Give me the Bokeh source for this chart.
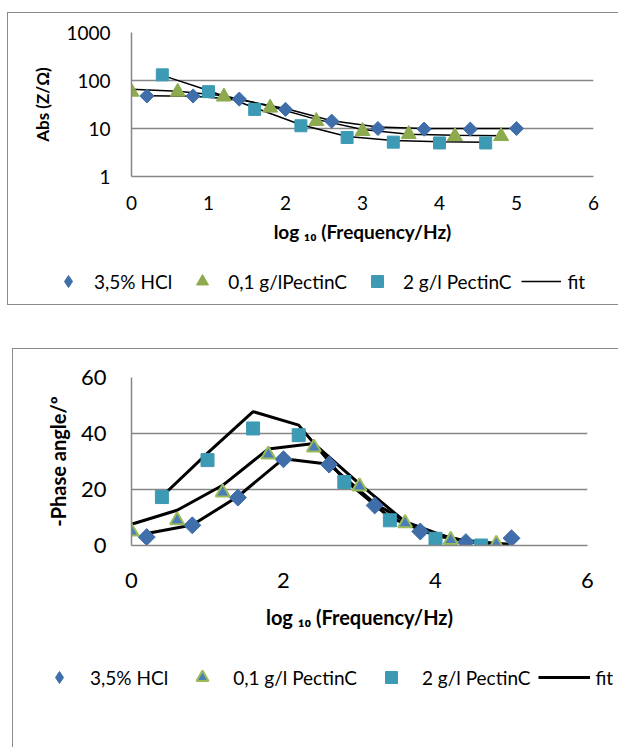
import math
from bokeh.plotting import figure
from bokeh.models import (Legend, LegendItem, FixedTicker,
                          BasicTickFormatter, Range1d)
from bokeh.embed import file_html
from bokeh.resources import INLINE

# ---------------- data ----------------
hcl_x = [0.2, 0.8, 1.4, 2.0, 2.6, 3.2, 3.8, 4.4, 5.0]
pec01_x = [0.0, 0.6, 1.2, 1.8, 2.4, 3.0, 3.6, 4.2, 4.8]
pec2_x = [0.4, 1.0, 1.6, 2.2, 2.8, 3.4, 4.0, 4.6]

# |Z| (ohm)
absz_hcl = [47.6, 47.6, 41, 25, 14.2, 10, 9.7, 9.7, 10]
absz_pec01 = [58, 58, 46, 27, 14.2, 8.8, 7.6, 6.9, 6.9]
absz_pec2 = [131, 58.6, 25, 11.4, 6.5, 5.2, 5.0, 5.0]
absz_fit_hcl = [48, 47, 40, 26, 14.5, 10.7, 10, 10, 10]
absz_fit_pec01 = [66, 60, 48, 29, 15.5, 9.5, 7.6, 7.2, 7.1]
absz_fit_pec2 = [128, 62, 27, 12, 6.8, 5.6, 5.3, 5.2]

# -phase angle (deg)
ph_hcl = [3.0, 7.2, 17.1, 30.8, 28.9, 14.3, 5.0, 1.2, 2.6]
ph_pec01 = [5.0, 9.0, 18.9, 32.5, 35.0, 21.1, 8.0, 2.0, 0.6]
ph_pec2 = [17.3, 30.5, 41.8, 39.4, 22.7, 9.0, 2.4, 0.0]
ph_fit_hcl = [4.3, 7.3, 17.5, 31.0, 29.0, 15.0, 5.5, 1.5, 0.4]
ph_fit_pec01 = [7.6, 12.6, 21.5, 34.5, 36.4, 22.0, 8.5, 2.5, 0.5]
ph_fit_pec2 = [17.5, 33.0, 47.8, 43.0, 23.5, 10.0, 3.5, 0.7]

x_ticks_top = [0, 1, 2, 3, 4, 5, 6]
y_ticks_top = [1, 10, 100, 1000]
x_ticks_bot = [0, 2, 4, 6]
y_ticks_bot = [0, 20, 40, 60]

labels_top = ["3,5% HCl", "0,1 g/lPectinC", "2 g/l PectinC", "fit"]
labels_bot = ["3,5% HCl", "0,1 g/l PectinC", "2 g/l PectinC", "fit"]

# ---------------- style ----------------
FONT = "Lato"
GRID = "#868686"
FRAME = "1px solid #8a8a8a"
BLUE = "#3F6EAA"
GREEN = "#8DAA4E"
TEAL = "#3C9AB4"
BLUE2 = "#4A7EBB"
GREEN2 = "#9BBB59"

TOP_MARK = dict(
    hcl=dict(marker="square", angle=math.pi / 4, size=10, fill_color=BLUE, line_color=BLUE),
    p01=dict(marker="triangle", size=15, fill_color=GREEN, line_color=GREEN),
    p2=dict(marker="square", size=12, fill_color=TEAL, line_color=TEAL),
)
BOT_MARK = dict(
    hcl=dict(marker="square", angle=math.pi / 4, size=12, fill_color=BLUE, line_color=BLUE),
    p01=dict(marker="triangle", size=14, fill_color=BLUE2, line_color=GREEN2, line_width=2),
    p2=dict(marker="square", size=13, fill_color=TEAL, line_color=TEAL),
)


def legend_marks(marks):
    # legend swatches ignore the marker angle, so use a diamond there
    out = {k: dict(v) for k, v in marks.items()}
    out["hcl"].pop("angle", None)
    out["hcl"]["marker"] = "diamond"
    return out


def style_axes(p, tick_size, title_size, ystand, xstand, ylab_stand, xlab_stand):
    p.xgrid.visible = False
    p.ygrid.grid_line_color = GRID
    p.ygrid.grid_line_width = 1.5
    p.outline_line_color = None
    for ax in (p.xaxis[0], p.yaxis[0]):
        ax.axis_line_color = GRID
        ax.axis_line_width = 1.5
        ax.major_tick_line_color = None
        ax.minor_tick_line_color = None
        ax.major_tick_out = 0
        ax.major_tick_in = 0
        ax.major_label_text_font = FONT
        ax.major_label_text_font_size = tick_size
        ax.major_label_text_color = "#000000"
        ax.axis_label_text_font = FONT
        ax.axis_label_text_font_size = title_size
        ax.axis_label_text_font_style = "bold"
        ax.axis_label_text_color = "#000000"
    p.yaxis[0].major_label_standoff = ystand
    p.xaxis[0].major_label_standoff = xstand
    p.yaxis[0].axis_label_standoff = ylab_stand
    p.xaxis[0].axis_label_standoff = xlab_stand


def legend_fig(width, height, marks, line_w, series, labels, loc, glyph_w,
               standoff, spacing, font_size, margin, styles):
    # legend-only panel: the series are drawn here outside the visible range,
    # so only their legend swatches appear
    pl = figure(width=width, height=height, x_range=Range1d(100, 101),
                y_range=Range1d(-101, -100), x_axis_location=None,
                y_axis_location=None, output_backend="svg",
                toolbar_location=None, min_border=0,
                min_border_left=0, min_border_right=0,
                min_border_top=0, min_border_bottom=0,
                margin=margin, styles=styles,
                background_fill_color="white", border_fill_color="white")
    pl.grid.visible = False
    pl.outline_line_color = None
    (xa, ya), (xb, yb), (xc, yc), (xd, yd) = series
    ra = pl.scatter(xa, ya, **marks["hcl"])
    rb = pl.scatter(xb, yb, **marks["p01"])
    rc = pl.scatter(xc, yc, **marks["p2"])
    rd = pl.line(xd, yd, line_color="black", line_width=line_w)
    leg = Legend(items=[LegendItem(label=labels[0], renderers=[ra]),
                        LegendItem(label=labels[1], renderers=[rb]),
                        LegendItem(label=labels[2], renderers=[rc]),
                        LegendItem(label=labels[3], renderers=[rd])],
                 orientation="horizontal", location=loc,
                 glyph_width=glyph_w, glyph_height=30, label_standoff=standoff,
                 spacing=spacing, padding=0, margin=0, border_line_color=None,
                 background_fill_alpha=0, label_text_font=FONT,
                 label_text_font_size=font_size, label_text_color="#000000")
    pl.add_layout(leg, "center")
    return pl


# ---------------- top chart ----------------
W1, H1 = 611, 247
p1 = figure(width=W1, height=H1, y_axis_type="log",
            x_range=Range1d(0, 6), y_range=Range1d(1, 1000),
            output_backend="svg", toolbar_location=None,
            min_border_left=123, min_border_right=W1 - 585,
            min_border_top=19, min_border_bottom=H1 - 163,
            background_fill_color="white", border_fill_color="white",
            margin=(12, 0, 0, 7),
            styles={"border-left": FRAME, "border-top": FRAME})
p1.xaxis.ticker = FixedTicker(ticks=x_ticks_top)
p1.yaxis.ticker = FixedTicker(ticks=y_ticks_top)
p1.yaxis.formatter = BasicTickFormatter(use_scientific=False)
p1.xaxis.axis_label = "log \u2081\u2080 (Frequency/Hz)"
p1.yaxis.axis_label = "Abs (Z/\u03a9)"
style_axes(p1, "19px", "17px", 21, 19, 10, 7)
p1.xaxis.axis_label_text_font_size = "19px"

p1.line(hcl_x, absz_fit_hcl, line_color="black", line_width=1.5)
p1.line(pec01_x, absz_fit_pec01, line_color="black", line_width=1.5)
p1.line(pec2_x, absz_fit_pec2, line_color="black", line_width=1.5)
p1.scatter(hcl_x, absz_hcl, **TOP_MARK["hcl"])
p1.scatter(pec01_x, absz_pec01, **TOP_MARK["p01"])
p1.scatter(pec2_x, absz_pec2, **TOP_MARK["p2"])

pl1 = legend_fig(W1, 46, legend_marks(TOP_MARK), 1.5,
                 [(hcl_x, absz_hcl), (pec01_x, absz_pec01),
                  (pec2_x, absz_pec2), (hcl_x, absz_fit_hcl)],
                 labels_top, (40, 9), 40, 6, 10, "19px",
                 (0, 0, 0, 7), {"border-left": FRAME, "border-bottom": FRAME})

# ---------------- bottom chart ----------------
W2, H2 = 606, 299
p2 = figure(width=W2, height=H2,
            x_range=Range1d(0, 6), y_range=Range1d(0, 60),
            output_backend="svg", toolbar_location=None,
            min_border_left=118, min_border_right=W2 - 574,
            min_border_top=28, min_border_bottom=H2 - 196,
            background_fill_color="white", border_fill_color="white",
            margin=(43, 0, 0, 12),
            styles={"border-left": FRAME, "border-top": FRAME})
p2.xaxis.ticker = FixedTicker(ticks=x_ticks_bot)
p2.yaxis.ticker = FixedTicker(ticks=y_ticks_bot)
p2.xaxis.axis_label = "log \u2081\u2080 (Frequency/Hz)"
p2.yaxis.axis_label = "-Phase angle/\u00ba"
style_axes(p2, "22px", "20px", 25, 27, 8, 14)

p2.line(hcl_x, ph_fit_hcl, line_color="black", line_width=3)
p2.line(pec01_x, ph_fit_pec01, line_color="black", line_width=3)
p2.line(pec2_x, ph_fit_pec2, line_color="black", line_width=3)
p2.scatter(hcl_x, ph_hcl, **BOT_MARK["hcl"])
p2.scatter(pec01_x, ph_pec01, **BOT_MARK["p01"])
p2.scatter(pec2_x, ph_pec2, **BOT_MARK["p2"])

pl2 = legend_fig(W2, 100, legend_marks(BOT_MARK), 3,
                 [(hcl_x, ph_hcl), (pec01_x, ph_pec01),
                  (pec2_x, ph_pec2), (hcl_x, ph_fit_hcl)],
                 labels_bot, (20, 55), 52, 5, 8, "19px",
                 (0, 0, 0, 12), {"border-left": FRAME})

open("out.html", "w").write(file_html([p1, pl1, p2, pl2], INLINE))
